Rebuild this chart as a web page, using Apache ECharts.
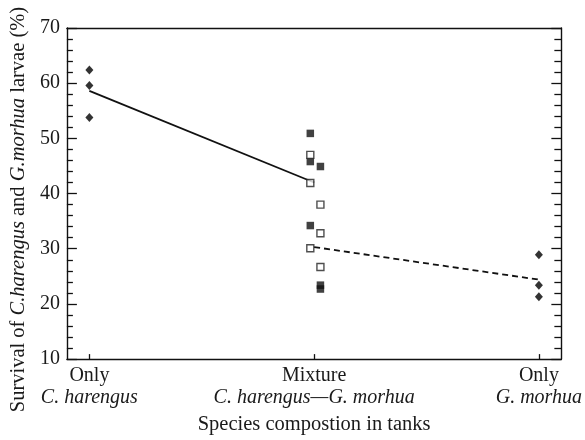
<!DOCTYPE html>
<html><head><meta charset="utf-8">
<script src="https://cdn.jsdelivr.net/npm/echarts@6/dist/echarts.min.js"></script>
<style>html,body{margin:0;padding:0;background:#fff}#c{width:585px;height:440px}</style>
</head><body><div id="c"></div>
<script>
// Category positions on x: 0 = Only C. harengus, 1 = Mixture, 2 = Only G. morhua
const categoryPos = [0, 1, 2];
const categoryTop = ['Only', 'Mixture', 'Only'];
const categoryBottom = ['C. harengus', 'C. harengus\u2014G. morhua', 'G. morhua'];
const yTicks = [10, 20, 30, 40, 50, 60, 70];

// Only C. harengus (diamonds)
const onlyHarengus = [[0, 62.4], [0, 59.6], [0, 53.8]];
// Only G. morhua (diamonds)
const onlyMorhua = [[2, 28.9], [2, 23.4], [2, 21.3]];
// Mixture: C. harengus (filled squares)
const mixHarengus = [[0.983, 50.9], [0.983, 45.8], [1.028, 44.9], [0.983, 34.2], [1.028, 23.4], [1.028, 22.7]];
// Mixture: G. morhua (open squares)
const mixMorhua = [[0.983, 47.0], [0.983, 41.9], [1.028, 38.0], [1.028, 32.8], [0.983, 30.1], [1.028, 26.7]];
// Trend lines
const harengusTrend = [[0, 58.6], [1, 42.0]];
const morhuaTrend = [[1, 30.3], [2, 24.4]];

const F = 'Liberation Serif, Times New Roman, serif';
const chart = echarts.init(document.getElementById('c'));
chart.setOption({
  animation: false,
  backgroundColor: '#fff',
  textStyle: { fontFamily: F, color: '#1a1a1a' },
  grid: { left: 66, right: 23, top: 28, bottom: 78 },
  xAxis: [{
    type: 'value', min: -0.1, max: 2.1, position: 'bottom',
    name: 'Species compostion in tanks', nameLocation: 'middle', nameGap: 52,
    nameTextStyle: { fontFamily: F, fontSize: 20.5, color: '#1a1a1a' },
    axisLine: { show: true, onZero: false, lineStyle: { color: '#111', width: 1.4 } },
    axisTick: { show: true, inside: true, length: 5, customValues: categoryPos, lineStyle: { color: '#111', width: 1.3 } },
    axisLabel: {
      show: true, margin: 6, customValues: categoryPos,
      formatter: function (v) { const i = Math.round(v); return categoryTop[i] + '\n{i|' + categoryBottom[i] + '}'; },
      fontFamily: F, fontSize: 20, color: '#1a1a1a', lineHeight: 22,
      rich: { i: { fontFamily: F, fontStyle: 'italic', fontSize: 20, color: '#1a1a1a', lineHeight: 22 } }
    },
    splitLine: { show: false }
  }, {
    type: 'value', min: -0.1, max: 2.1, position: 'top',
    axisLine: { show: true, onZero: false, lineStyle: { color: '#111', width: 1.4 } },
    axisTick: { show: false }, axisLabel: { show: false }, splitLine: { show: false }
  }],
  yAxis: [{
    type: 'value', min: 10, max: 70, interval: 10, position: 'left',
    name: '{n|Survival of }{i|C.harengus}{n| and }{i|G.morhua}{n| larvae (%)}',
    nameLocation: 'middle', nameRotate: 90, nameGap: 36,
    nameTextStyle: {
      padding: [0, 32, 0, 0],
      rich: {
        n: { fontFamily: F, fontSize: 20.5, color: '#1a1a1a' },
        i: { fontFamily: F, fontSize: 20.5, fontStyle: 'italic', color: '#1a1a1a' }
      }
    },
    axisLine: { show: true, onZero: false, lineStyle: { color: '#111', width: 1.4 } },
    axisTick: { show: true, inside: true, length: 10, lineStyle: { color: '#111', width: 1.3 } },
    minorTick: { show: true, splitNumber: 5, length: 6, lineStyle: { color: '#111', width: 1.3 } },
    axisLabel: { fontFamily: F, fontSize: 20, color: '#1a1a1a', margin: 7,
      formatter: function (v) { return yTicks.indexOf(v) >= 0 ? String(v) : ''; } },
    splitLine: { show: false }
  }, {
    type: 'value', min: 10, max: 70, interval: 10, position: 'right',
    axisLine: { show: true, onZero: false, lineStyle: { color: '#111', width: 1.4 } },
    axisTick: { show: true, inside: true, length: 10, lineStyle: { color: '#111', width: 1.3 } },
    minorTick: { show: true, splitNumber: 5, length: 7, lineStyle: { color: '#111', width: 1.3 } },
    axisLabel: { show: false }, splitLine: { show: false }
  }],
  series: [
    { type: 'line', data: harengusTrend, symbol: 'none', lineStyle: { color: '#111', width: 1.8, type: 'solid' }, z: 1 },
    { type: 'line', data: morhuaTrend, symbol: 'none', lineStyle: { color: '#111', width: 1.8, type: [6, 4] }, z: 1 },
    { type: 'scatter', data: onlyHarengus, symbol: 'diamond', symbolSize: [8, 9], itemStyle: { color: '#000' }, z: 3 },
    { type: 'scatter', data: onlyMorhua, symbol: 'diamond', symbolSize: [8, 9], itemStyle: { color: '#000' }, z: 3 },
    { type: 'scatter', data: mixHarengus, symbol: 'rect', symbolSize: 7.5, itemStyle: { color: '#111' }, z: 3 },
    { type: 'scatter', data: mixMorhua, symbol: 'rect', symbolSize: 7, itemStyle: { color: '#fff', borderColor: '#222', borderWidth: 1.4 }, z: 4 }
  ]
});
</script></body></html>
